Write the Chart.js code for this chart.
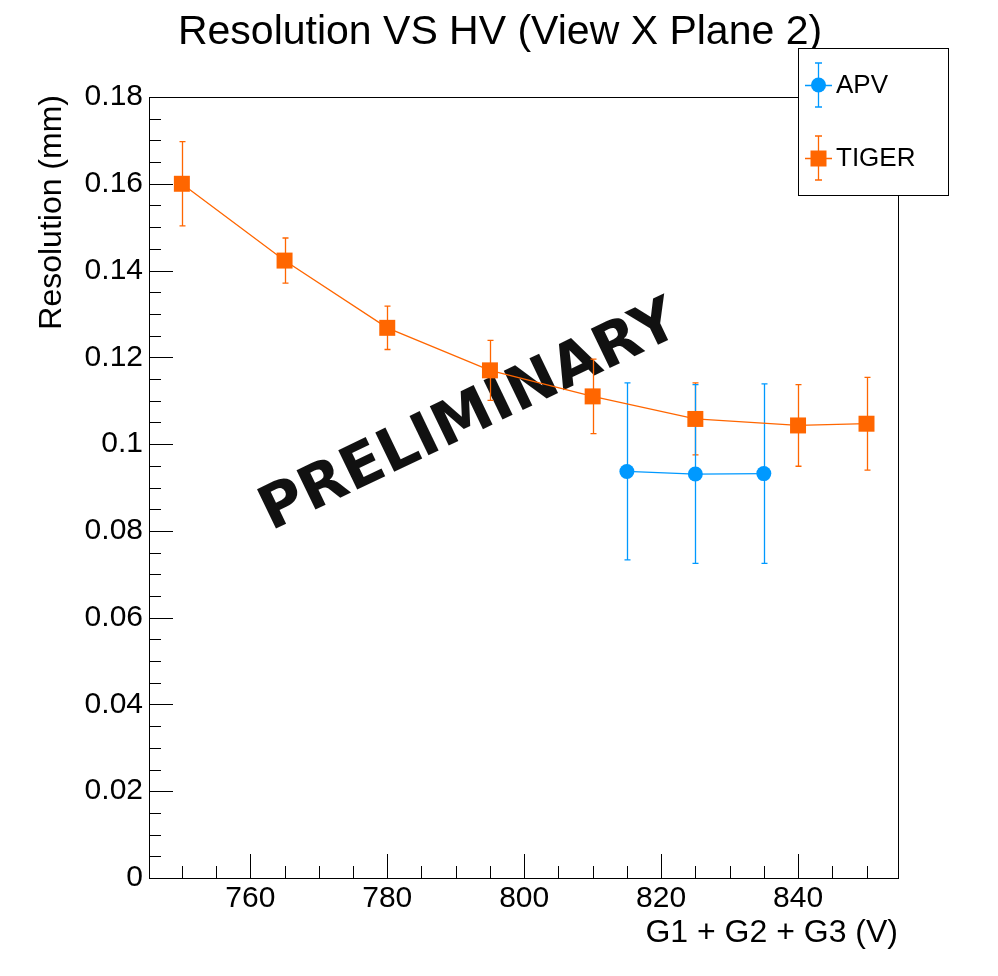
<!DOCTYPE html>
<html>
<head>
<meta charset="utf-8">
<title>Resolution VS HV (View X Plane 2)</title>
<script src="https://cdn.jsdelivr.net/npm/chart.js@4/dist/chart.umd.min.js"></script>
<style>
  body { margin: 0; background: #fff; }
  #wrap { width: 998px; height: 976px; }
</style>
</head>
<body>
<div id="wrap"><canvas id="resGraph" width="998" height="976"></canvas></div>
<script>
// values
var tigerHV  = [750, 765, 780, 795, 810, 825, 840, 850];
var tigerRes = [0.1600, 0.1423, 0.1268, 0.1170, 0.1110, 0.1058, 0.1043, 0.1047];
var tigerErr = [0.0097, 0.0052, 0.0050, 0.0069, 0.0086, 0.0083, 0.0094, 0.0107];

var apvHV  = [815, 825, 835];
var apvRes = [0.0937, 0.0931, 0.0932];
var apvErr = [0.0204, 0.0206, 0.0207];

var xTicks = [760, 780, 800, 820, 840];
var yTicks = [0, 0.02, 0.04, 0.06, 0.08, 0.1, 0.12, 0.14, 0.16, 0.18];

var ORANGE = '#ff6600';
var BLUE = '#0099ff';
var FONT = "'Liberation Sans', Arial, sans-serif";

function pts(xs, ys) {
	return xs.map(function (x, i) { return { x: x, y: ys[i] }; });
}

function errBars(chart, xs, ys, es, color) {
	var ctx = chart.ctx;
	var sx = chart.scales.x, sy = chart.scales.y;
	ctx.save();
	ctx.strokeStyle = color;
	ctx.lineWidth = 1.3;
	for (var i = 0; i < xs.length; i++) {
		var px = Math.round(sx.getPixelForValue(xs[i])) + 0.5;
		var top = sy.getPixelForValue(ys[i] + es[i]);
		var bot = sy.getPixelForValue(ys[i] - es[i]);
		ctx.beginPath();
		ctx.moveTo(px, top); ctx.lineTo(px, bot);
		ctx.moveTo(px - 3, top); ctx.lineTo(px + 3, top);
		ctx.moveTo(px - 3, bot); ctx.lineTo(px + 3, bot);
		ctx.stroke();
	}
	ctx.restore();
}

function legendEntry(ctx, x, y, color, shape, label) {
	ctx.strokeStyle = color;
	ctx.lineWidth = 1.3;
	ctx.beginPath();
	ctx.moveTo(x + 0.5, y - 22); ctx.lineTo(x + 0.5, y + 22);
	ctx.moveTo(x - 3, y - 22); ctx.lineTo(x + 4, y - 22);
	ctx.moveTo(x - 3, y + 22); ctx.lineTo(x + 4, y + 22);
	ctx.moveTo(x - 13, y + 0.5); ctx.lineTo(x + 14, y + 0.5);
	ctx.stroke();
	ctx.fillStyle = color;
	if (shape === 'circle') {
		ctx.beginPath();
		ctx.arc(x + 0.5, y, 7.5, 0, Math.PI * 2);
		ctx.fill();
	} else {
		ctx.fillRect(x - 7.5, y - 7.5, 16, 16);
	}
	ctx.fillStyle = '#000';
	ctx.font = '26px ' + FONT;
	ctx.textAlign = 'left';
	ctx.textBaseline = 'middle';
	ctx.fillText(label, x + 18, y + 1);
}

var rootLook = {
	id: 'rootLook',
	beforeDatasetsDraw: function (chart) {
		var ctx = chart.ctx;
		// watermark
		ctx.save();
		ctx.translate(470, 418);
		ctx.rotate(-25.7 * Math.PI / 180);
		ctx.fillStyle = '#111';
		ctx.font = "bold 60px 'DejaVu Sans', sans-serif";
		ctx.textAlign = 'center';
		ctx.textBaseline = 'middle';
		ctx.fillText('PRELIMINARY', 0, 0);
		ctx.restore();

		errBars(chart, tigerHV, tigerRes, tigerErr, ORANGE);
		errBars(chart, apvHV, apvRes, apvErr, BLUE);
	},
	afterDraw: function (chart) {
		var ctx = chart.ctx, a = chart.chartArea;
		var sx = chart.scales.x, sy = chart.scales.y;
		ctx.save();
		ctx.strokeStyle = '#000';
		ctx.lineWidth = 1;
		ctx.strokeRect(a.left + 0.5, a.top + 0.5, a.right - a.left, a.bottom - a.top);

		// ticks inside the frame
		ctx.beginPath();
		var v, p;
		for (v = 750; v <= 850; v += 5) {
			p = Math.round(sx.getPixelForValue(v)) + 0.5;
			var len = (v % 20 === 0) ? 24 : 12;
			ctx.moveTo(p, a.bottom); ctx.lineTo(p, a.bottom - len);
		}
		for (var k = 0; k <= 36; k++) {
			v = k * 0.005;
			p = Math.round(sy.getPixelForValue(v)) + 0.5;
			var ylen = (k % 4 === 0) ? 24 : 12;
			ctx.moveTo(a.left, p); ctx.lineTo(a.left + ylen, p);
		}
		ctx.stroke();

		// titles
		ctx.fillStyle = '#000';
		ctx.font = '41px ' + FONT;
		ctx.textAlign = 'center';
		ctx.textBaseline = 'middle';
		ctx.fillText('Resolution VS HV (View X Plane 2)', 500, 33);

		ctx.font = '32px ' + FONT;
		ctx.textAlign = 'right';
		ctx.fillText('G1 + G2 + G3 (V)', a.right, 933);

		ctx.save();
		ctx.translate(52, a.top - 2);
		ctx.rotate(-Math.PI / 2);
		ctx.textAlign = 'right';
		ctx.fillText('Resolution (mm)', 0, 0);
		ctx.restore();

		// legend box
		ctx.fillStyle = '#fff';
		ctx.fillRect(798, 48, 150, 147);
		ctx.strokeRect(798.5, 48.5, 150, 147);
		legendEntry(ctx, 818, 85, BLUE, 'circle', 'APV');
		legendEntry(ctx, 818, 158, ORANGE, 'rect', 'TIGER');
		ctx.restore();
	}
};

var ctx = document.getElementById('resGraph');
var resChart = new Chart(ctx, {
	type: 'scatter',
	data: {
		datasets: [
			{
				label: 'APV',
				data: pts(apvHV, apvRes),
				showLine: true,
				borderColor: BLUE,
				backgroundColor: BLUE,
				borderWidth: 1.3,
				pointStyle: 'circle',
				pointRadius: 7.5,
				pointBorderWidth: 0,
				pointHoverRadius: 7.5
			},
			{
				label: 'TIGER',
				data: pts(tigerHV, tigerRes),
				showLine: true,
				borderColor: ORANGE,
				backgroundColor: ORANGE,
				borderWidth: 1.3,
				pointStyle: 'rect',
				pointRadius: 11.3,
				pointBorderWidth: 0,
				pointHoverRadius: 11.3
			}
		]
	},
	options: {
		responsive: false,
		animation: false,
		devicePixelRatio: 1,
		layout: { padding: { left: 0, top: 97, right: 100, bottom: 0 } },
		plugins: {
			legend: { display: false },
			title: { display: false },
			tooltip: { enabled: false }
		},
		scales: {
			x: {
				type: 'linear',
				min: 745.2,
				max: 854.6,
				afterBuildTicks: function (s) { s.ticks = xTicks.map(function (t) { return { value: t }; }); },
				afterFit: function (s) { s.height = 98; },
				grid: { display: false, drawTicks: false },
				border: { display: false },
				ticks: {
					color: '#000',
					padding: 3,
					maxRotation: 0,
					font: { family: FONT, size: 30 }
				}
			},
			y: {
				type: 'linear',
				min: 0,
				max: 0.18,
				afterBuildTicks: function (s) { s.ticks = yTicks.map(function (t) { return { value: t }; }); },
				afterFit: function (s) { s.width = 149; },
				grid: { display: false, drawTicks: false },
				border: { display: false },
				ticks: {
					color: '#000',
					padding: 6,
					font: { family: FONT, size: 30 },
					callback: function (v) { return String(+v.toFixed(2)); }
				}
			}
		}
	},
	plugins: [rootLook]
});
</script>
</body>
</html>
